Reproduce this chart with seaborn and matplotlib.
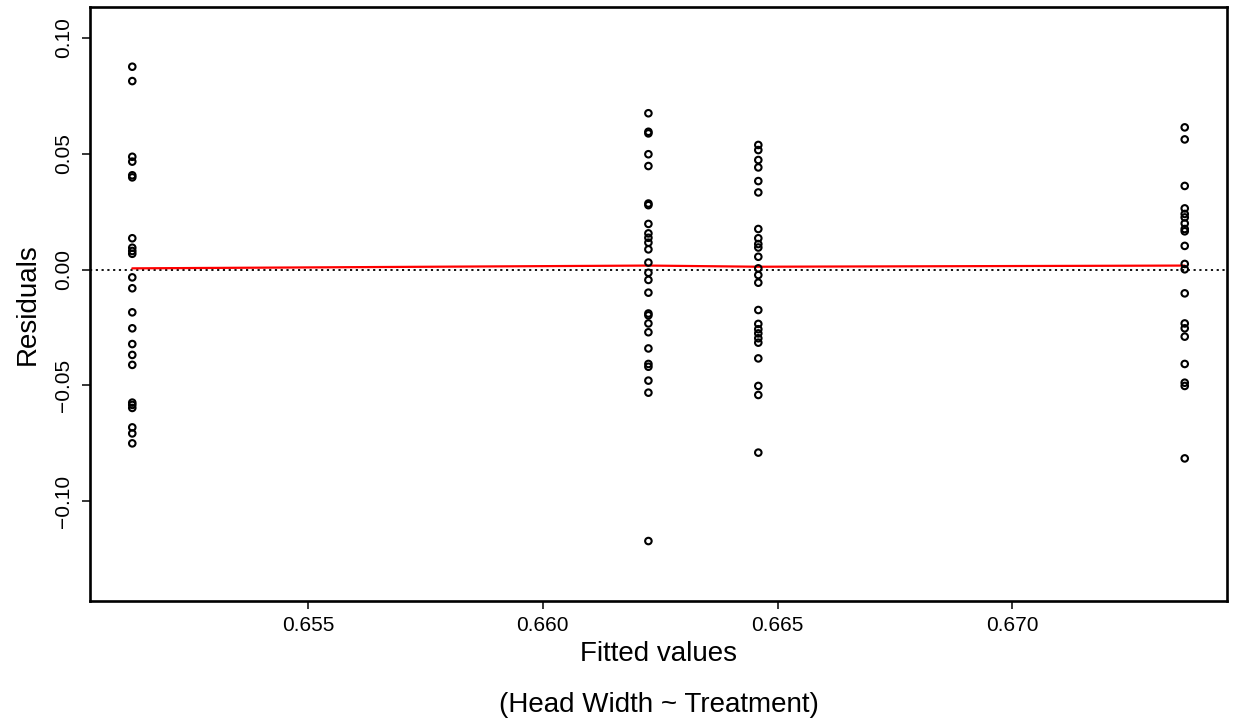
import numpy as np
import pandas as pd
import matplotlib
matplotlib.use("Agg")
import matplotlib.pyplot as plt
import seaborn as sns

# fitted value of each treatment group
fitted = [0.65126, 0.66225, 0.66459, 0.67367]

# residuals, one list per group
res_g1 = [0.0876, 0.0814, 0.0487, 0.0466, 0.0407, 0.0398, 0.0135, 0.0094,
          0.0080, 0.0068, -0.0034, -0.0081, -0.0185, -0.0254, -0.0322,
          -0.0369, -0.0412, -0.0575, -0.0585, -0.0598, -0.0682, -0.0708, -0.0751]
res_g2 = [0.0675, 0.0595, 0.0588, 0.0498, 0.0447, 0.0285, 0.0278, 0.0197,
          0.0156, 0.0137, 0.0116, 0.0087, 0.0030, -0.0014, -0.0045, -0.0100,
          -0.0190, -0.0198, -0.0233, -0.0271, -0.0341, -0.0408, -0.0420,
          -0.0480, -0.0532, -0.1173]
res_g3 = [0.0538, 0.0516, 0.0473, 0.0441, 0.0382, 0.0333, 0.0175, 0.0135,
          0.0110, 0.0095, 0.0055, 0.0005, -0.0024, -0.0057, -0.0175, -0.0235,
          -0.0258, -0.0276, -0.0297, -0.0316, -0.0384, -0.0503, -0.0542, -0.0791]
res_g4 = [0.0614, 0.0562, 0.0361, 0.0264, 0.0240, 0.0225, 0.0199, 0.0175,
          0.0165, 0.0102, 0.0024, 0.0001, -0.0103, -0.0233, -0.0254, -0.0290,
          -0.0408, -0.0489, -0.0503, -0.0816]

# red smoother through the groups
smooth_y = [0.0005, 0.0017, 0.0012, 0.0017]

groups = [res_g1, res_g2, res_g3, res_g4]
df = pd.DataFrame({
    "fitted": np.concatenate([[f] * len(r) for f, r in zip(fitted, groups)]),
    "resid": np.concatenate(groups),
})
smooth = pd.DataFrame({"fitted": fitted, "resid": smooth_y})

sns.set_style("ticks")
plt.rcParams["font.family"] = ["Liberation Sans", "DejaVu Sans"]
plt.rcParams["text.color"] = "black"
plt.rcParams["axes.labelcolor"] = "black"
plt.rcParams["xtick.color"] = "black"
plt.rcParams["ytick.color"] = "black"

fig = plt.figure(figsize=(12.36, 7.25), dpi=100)
ax = fig.add_axes([90 / 1236, 1 - 601 / 725, 1137 / 1236, 594 / 725])

ax.axhline(0, color="black", linestyle=(0, (1.2, 2.0)), linewidth=1.3, zorder=1)
sns.lineplot(data=smooth, x="fitted", y="resid", color="red", linewidth=1.6,
             ax=ax, zorder=2)
sns.scatterplot(data=df, x="fitted", y="resid", marker="o", s=22,
                facecolor="none", edgecolor="black", linewidth=1.5,
                ax=ax, zorder=3)

ax.set_xlim(0.65036, 0.67457)
ax.set_ylim(-0.1432, 0.1134)
ax.set_xticks([0.655, 0.660, 0.665, 0.670])
ax.set_xticklabels(["0.655", "0.660", "0.665", "0.670"])
ax.set_yticks([-0.10, -0.05, 0.00, 0.05, 0.10])
ax.set_yticklabels(["\u22120.10", "\u22120.05", "0.00", "0.05", "0.10"],
                   rotation=90, va="center")

ax.tick_params(axis="both", direction="out", length=6, width=1.1,
               labelsize=15, color="black", labelcolor="black")
ax.tick_params(axis="x", pad=5)
ax.tick_params(axis="y", pad=6)
for sp in ax.spines.values():
    sp.set_visible(True)
    sp.set_linewidth(1.9)
    sp.set_color("black")

ax.set_xlabel("Fitted values", fontsize=20, labelpad=4)
ax.set_ylabel("Residuals", fontsize=20, labelpad=10)
fig.text(0.5 * (90 + 1227) / 1236, 1 - 705 / 725, "(Head Width ~ Treatment)",
         ha="center", va="center", fontsize=20)

fig.savefig("out.png", dpi=100, facecolor="white")
